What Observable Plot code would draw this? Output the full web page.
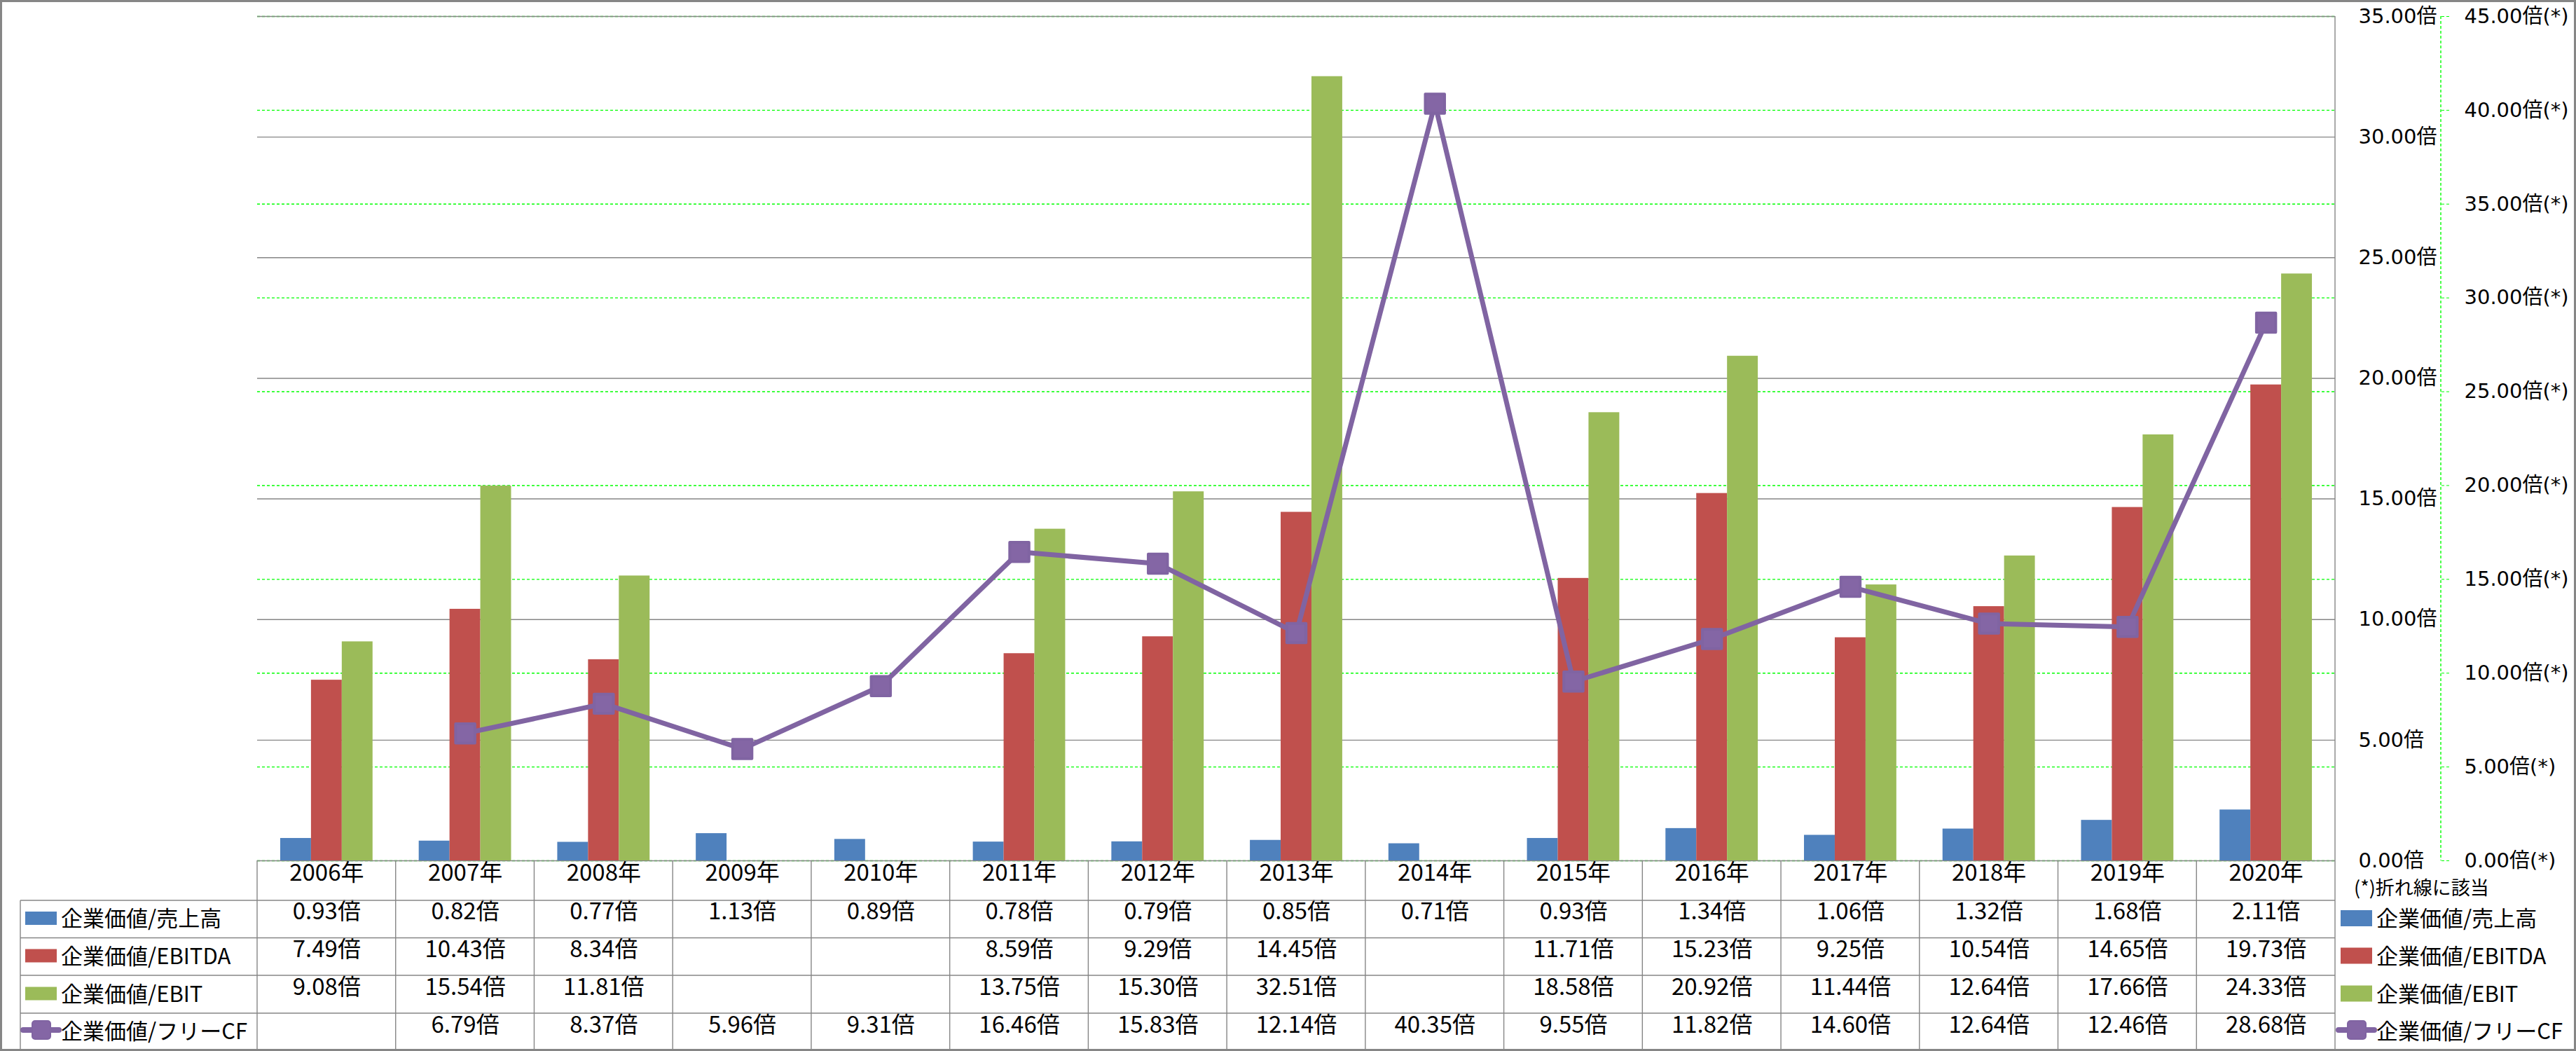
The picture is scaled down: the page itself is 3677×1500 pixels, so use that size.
<!DOCTYPE html>
<html><head><meta charset="utf-8">
<script src="https://cdn.jsdelivr.net/npm/d3@7"></script>
<script src="https://cdn.jsdelivr.net/npm/@observablehq/plot@0.6"></script>
<style>
html,body{margin:0;padding:0;background:#fff;}
svg{display:block;}
</style>
</head><body><div id="chart"></div>
<script>
// ---- data ----
const years = ["2006年","2007年","2008年","2009年","2010年","2011年","2012年","2013年","2014年","2015年","2016年","2017年","2018年","2019年","2020年"];
const evSales  = [0.93,0.82,0.77,1.13,0.89,0.78,0.79,0.85,0.71,0.93,1.34,1.06,1.32,1.68,2.11];
const evEbitda = [7.49,10.43,8.34,null,null,8.59,9.29,14.45,null,11.71,15.23,9.25,10.54,14.65,19.73];
const evEbit   = [9.08,15.54,11.81,null,null,13.75,15.30,32.51,null,18.58,20.92,11.44,12.64,17.66,24.33];
const evFcf    = [null,6.79,8.37,5.96,9.31,16.46,15.83,12.14,40.35,9.55,11.82,14.60,12.64,12.46,28.68];
const leftTicks  = [0,5,10,15,20,25,30,35];
const rightTicks = [0,5,10,15,20,25,30,35,40,45];
const seriesNames  = ["企業価値/売上高","企業価値/EBITDA","企業価値/EBIT","企業価値/フリーCF"];
const seriesKeys   = ["sales","ebitda","ebit","fcf"];
const seriesColors = ["#4F81BD","#C0504D","#9BBB59","#8064A2"];
const noteText = "(*)折れ線に該当";
const leftUnit = "倍", rightUnit = "倍(*)";

// ---- layout ----
const W = 3677, H = 1500, mL = 367, mR = 344, mT = 23, mB = 272;
const leftMax = 35, rightMax = 45, k = leftMax / rightMax;
const step = (W - mL - mR) / years.length;
const barW = step / 4.5, side = barW * 0.75;
const GRAY = "#868686";
const FONT = "'Noto Sans CJK JP','DejaVu Sans',sans-serif";
const AXFONT = "'DejaVu Sans','Noto Sans CJK JP',sans-serif";

const rows = years.map((y, i) => ({year: y, sales: evSales[i], ebitda: evEbitda[i], ebit: evEbit[i], fcf: evFcf[i]}));

const barSpec = [
  {key: "sales",  color: seriesColors[0], insetLeft: side,            insetRight: side + 2 * barW},
  {key: "ebitda", color: seriesColors[1], insetLeft: side + barW,     insetRight: side + barW},
  {key: "ebit",   color: seriesColors[2], insetLeft: side + 2 * barW, insetRight: side}
];

const rowDy = [83.5, 137.5, 191.5, 245];

const marks = [
  Plot.ruleY(rightTicks.map(v => v * k), {stroke: "#00FF00", strokeWidth: 1.4, strokeDasharray: "4,3"}),
  Plot.ruleY(leftTicks, {stroke: GRAY, strokeWidth: 1.4}),
  ...barSpec.map(b => Plot.barY(rows.filter(d => d[b.key] != null), {
    x: "year", y: b.key, fill: b.color, insetLeft: b.insetLeft, insetRight: b.insetRight
  })),
  Plot.line(rows.filter(d => d.fcf != null), {x: "year", y: d => d.fcf * k, stroke: seriesColors[3], strokeWidth: 7, strokeLinejoin: "round"}),
  Plot.dot(rows.filter(d => d.fcf != null), {x: "year", y: d => d.fcf * k, symbol: "square", r: 15.5,
    fill: "#8466A5", stroke: seriesColors[3], strokeWidth: 4, strokeLinejoin: "round"}),
  Plot.axisY(leftTicks, {anchor: "right", tickSize: 0, tickPadding: 33, fontSize: 29, fontFamily: AXFONT,
    tickFormat: d => d.toFixed(2) + leftUnit, label: null}),
  Plot.axisY(rightTicks.map(v => v * k), {anchor: "right", dx: 151, tickSize: 12, tickPadding: 21,
    stroke: "#00FF00", strokeDasharray: "4,3", fill: "black", fontSize: 29, fontFamily: AXFONT,
    tickFormat: d => (d / k).toFixed(2) + rightUnit, label: null}),
  // data table
  Plot.text(rows, {x: "year", text: "year", frameAnchor: "bottom", dy: 28.5, fontSize: 33, fontFamily: FONT}),
  ...seriesKeys.map((key, i) => Plot.text(rows.filter(d => d[key] != null), {
    x: "year", text: d => d[key].toFixed(2) + "倍", frameAnchor: "bottom", dy: rowDy[i], fontSize: 33, fontFamily: FONT
  }))
];

const plot = Plot.plot({
  width: W, height: H,
  marginLeft: mL, marginRight: mR, marginTop: mT, marginBottom: mB,
  style: {fontFamily: FONT, background: "white", overflow: "visible", color: "black"},
  x: {type: "band", domain: years, padding: 0, round: false, axis: null},
  y: {domain: [0, leftMax], round: false},
  marks
});

// ---- decorations: frame lines, table grid, legends ----
const svg = d3.select(plot);
const g = svg.append("g").attr("text-anchor", "start");
const yBottom = H - mB, xRight = W - mR;
const hLine = (x1, x2, y, c = GRAY, w = 1.4) => g.append("line").attr("x1", x1).attr("x2", x2).attr("y1", y).attr("y2", y).attr("stroke", c).attr("stroke-width", w);
const vLine = (x, y1, y2, c = GRAY, w = 1.4) => g.append("line").attr("x1", x).attr("x2", x).attr("y1", y1).attr("y2", y2).attr("stroke", c).attr("stroke-width", w);

// plot right edge
vLine(xRight, mT, yBottom);
// secondary axis line
vLine(xRight + 151, mT, yBottom, "#00FF00", 1.4).attr("stroke-dasharray", "4,3");
// table grid
const rowLines = [1285, 1338.5, 1392, 1446];
rowLines.forEach(y => hLine(29, xRight, y));
for (let i = 0; i <= years.length; i++) vLine(mL + i * step, yBottom, H);
vLine(29, 1285, H);
// outer border
g.append("rect").attr("x", 1.5).attr("y", 1.5).attr("width", W - 3).attr("height", H - 3)
  .attr("fill", "none").attr("stroke", GRAY).attr("stroke-width", 3);

// legends
const rowCenters = [1311.5, 1365, 1419, 1472];
function legendItem(x0, y, i, swH, textX, fs) {
  if (i < 3) {
    g.append("rect").attr("x", x0).attr("y", y - swH / 2 - 1).attr("width", 45).attr("height", swH).attr("fill", seriesColors[i]);
  } else {
    g.append("line").attr("x1", x0 - 3).attr("x2", x0 + 48).attr("y1", y - 2).attr("y2", y - 2)
      .attr("stroke", seriesColors[3]).attr("stroke-width", 8).attr("stroke-linecap", "round");
    g.append("rect").attr("x", x0 + 10).attr("y", y - 15).attr("width", 26).attr("height", 26).attr("rx", 4)
      .attr("fill", "#8466A5").attr("stroke", seriesColors[3]).attr("stroke-width", 2);
  }
  g.append("text").attr("x", textX).attr("y", y).attr("dy", "0.35em").attr("text-anchor", "start")
    .attr("font-size", fs).attr("font-family", FONT).attr("fill", "black").text(seriesNames[i]);
}
seriesNames.forEach((_, i) => legendItem(36, rowCenters[i], i, 19, 87, 31));
seriesNames.forEach((_, i) => legendItem(3341, rowCenters[i], i, 23, 3392, 31));
g.append("text").attr("x", 3360).attr("y", 1268).attr("dy", "0.35em").attr("text-anchor", "start")
  .attr("font-size", 27).attr("font-family", FONT).attr("fill", "black").text(noteText);

document.getElementById("chart").appendChild(plot);
</script>
</body></html>
